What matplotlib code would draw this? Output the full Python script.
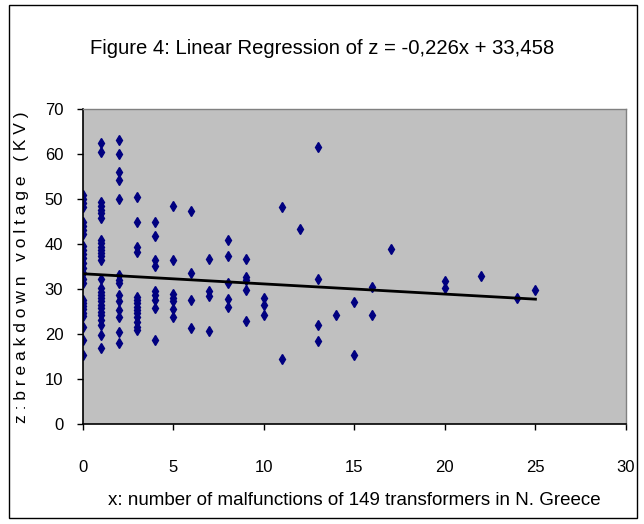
import matplotlib.pyplot as plt
from matplotlib.patches import Rectangle

# number of malfunctions (x) and breakdown voltage in kV (z)
x_vals = (
    [0] * 26 + [1] * 28 + [2] * 14 + [3] * 14 + [4] * 9 + [5] * 7 + [6] * 4
    + [7] * 4 + [8] * 5 + [9] * 5 + [10] * 3 + [11] * 2 + [12] + [13] * 4
    + [14] + [15] * 2 + [16] * 2 + [17] + [20] * 2 + [22] + [24] + [25]
)
z_vals = [
    # x = 0
    51.0, 50.0, 49.1, 48.4, 45.0, 44.1, 43.2, 42.4, 39.7, 38.7, 37.9, 36.9, 35.8,
    34.7, 33.6, 32.3, 31.3, 27.6, 27.0, 26.3, 25.6, 24.8, 24.1, 21.7, 18.7, 15.4,
    # x = 1
    62.6, 60.6, 49.5, 48.5, 47.6, 46.9, 45.8, 41.0, 40.2, 39.5, 38.7, 38.0, 37.3,
    36.5, 32.4, 30.2, 29.5, 28.7, 28.0, 27.3, 26.5, 25.8, 25.0, 24.3, 23.2, 22.1,
    19.9, 16.9,
    # x = 2
    63.2, 60.0, 56.1, 54.3, 50.0, 33.2, 32.1, 31.3, 28.7, 27.3, 25.4, 23.9, 20.6, 18.0,
    # x = 3
    50.6, 45.0, 39.5, 38.4, 28.4, 27.6, 26.9, 26.1, 25.4, 24.7, 23.9, 22.8, 21.7, 21.0,
    # x = 4
    45.0, 41.9, 36.5, 35.2, 29.7, 28.7, 27.6, 25.8, 18.7,
    # x = 5
    48.5, 36.5, 28.9, 28.0, 27.3, 25.6, 23.9,
    # x = 6
    47.5, 33.7, 27.6, 21.5,
    # x = 7
    36.8, 29.6, 28.6, 20.8,
    # x = 8
    41.0, 37.5, 31.5, 27.8, 26.1,
    # x = 9
    36.8, 32.7, 32.1, 29.9, 23.0,
    # x = 10
    28.1, 26.5, 24.3,
    # x = 11 .. 25
    48.4, 14.5,
    43.3,
    61.6, 32.4, 22.0, 18.6,
    24.2,
    27.1, 15.4,
    30.6, 24.2,
    39.0,
    31.9, 30.4,
    33.0,
    28.0,
    29.9,
]

slope = -0.226
intercept = 33.458
fit_x = [0, 25]

x_ticks = [0, 5, 10, 15, 20, 25, 30]
y_ticks = [0, 10, 20, 30, 40, 50, 60, 70]

plt.rcParams["font.family"] = ["Liberation Sans Narrow", "Liberation Sans", "DejaVu Sans"]

fig = plt.figure(figsize=(6.44, 5.24), dpi=100)
fig.patches.append(
    Rectangle((9 / 644, 6 / 524), 628 / 644, 513 / 524, transform=fig.transFigure,
              fill=False, edgecolor="black", linewidth=1.0)
)

ax = fig.add_axes([82.7 / 644, (524 - 424.3) / 524, 543.3 / 644, 315 / 524])
ax.set_facecolor("#C0C0C0")

ax.plot(x_vals, z_vals, linestyle="none", marker="d", markersize=5.5,
        color="#000080", markeredgecolor="#000080")
ax.plot(fit_x, [slope * v + intercept for v in fit_x], color="black", linewidth=2)

ax.set_xlim(0, 30)
ax.set_ylim(0, 70)
ax.set_xticks(x_ticks)
ax.set_yticks(y_ticks)
ax.tick_params(direction="out", length=4, width=1, labelsize=12)
ax.tick_params(axis="x", pad=22)
ax.tick_params(axis="y", pad=10)

for side in ("left", "bottom"):
    ax.spines[side].set_color("black")
    ax.spines[side].set_linewidth(1.2)
for side in ("top", "right"):
    ax.spines[side].set_color("#808080")
    ax.spines[side].set_linewidth(1.0)

ax.set_xlabel("x: number of malfunctions of 149 transformers in N. Greece",
              fontsize=13.5, labelpad=12)
ax.set_ylabel("z : b r e a k d o w n   v o l t a g e   ( K V )", fontsize=12.5)
ax.yaxis.set_label_coords(-0.098, 0.5)

fig.text(322 / 644, 1 - 48 / 524, "Figure 4: Linear Regression of z = -0,226x + 33,458",
         ha="center", va="center", fontsize=14.6)

fig.savefig("out.png", dpi=100)
